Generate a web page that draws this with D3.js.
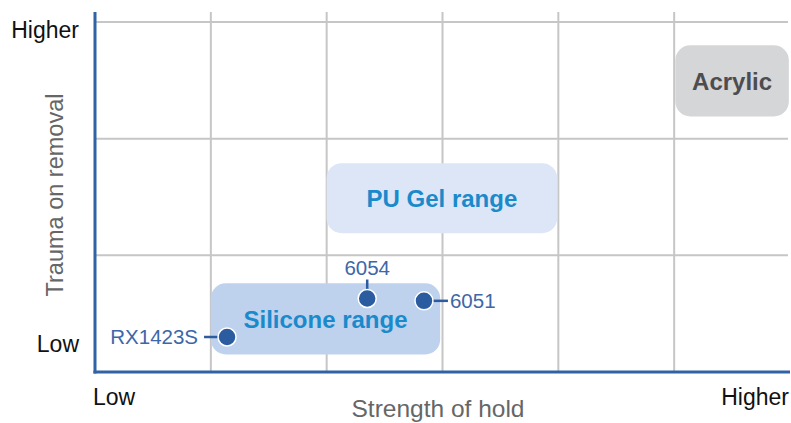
<!DOCTYPE html>
<html>
<head>
<meta charset="utf-8">
<script src="https://cdn.jsdelivr.net/npm/d3@7"></script>
<style>
  html, body { margin: 0; padding: 0; background: #fff; }
  svg { display: block; font-family: "Liberation Sans", Arial, Helvetica, sans-serif; }
</style>
</head>
<body>
<div id="chart"></div>
<script>
// axis ends
const xTickLabels = ["Low", "Higher"];
const yTickLabels = ["Low", "Higher"];
const xTitle = "Strength of hold";
const yTitle = "Trauma on removal";

// grid goes 0..6 across, 0..3 up
const xGrid = [1, 2, 3, 4, 5];
const yGrid = [1, 2, 3];

// material ranges (boxes)
const rangeNames = ["Silicone range", "PU Gel range", "Acrylic"];
const rangeX0 = [1.0, 2.0, 5.01];
const rangeX1 = [2.98, 3.99, 5.99];
const rangeY0 = [0.15, 1.19, 2.19];
const rangeY1 = [0.76, 1.79, 2.8];

// products
const products = ["RX1423S", "6054", "6051"];
const strength = [1.14, 2.35, 2.84];
const trauma = [0.3, 0.63, 0.61];

const width = 791;
const height = 423;
const margin = { top: 12, right: 1, bottom: 51, left: 95 };

const svg = d3.select("#chart")
  .append("svg")
  .attr("width", width)
  .attr("height", height);

const x = d3.scaleLinear().domain([0, 6]).range([margin.left, width - margin.right]);
const y = d3.scaleLinear().domain([0, 3]).range([height - margin.bottom, 22]);

const boxFill = { "Silicone range": "#bed2ee", "PU Gel range": "#dde6f6", "Acrylic": "#d5d6d8" };
const boxText = { "Silicone range": "#1a8acb", "PU Gel range": "#1a8acb", "Acrylic": "#4d4d4f" };

// grid
svg.append("g")
  .selectAll("line")
  .data(xGrid)
  .join("line")
  .attr("x1", (d) => x(d)).attr("x2", (d) => x(d))
  .attr("y1", margin.top).attr("y2", y(0))
  .attr("stroke", "#c6c6c6").attr("stroke-width", 2);

svg.append("g")
  .selectAll("line")
  .data(yGrid)
  .join("line")
  .attr("x1", x(0)).attr("x2", x(6) - 2)
  .attr("y1", (d) => y(d)).attr("y2", (d) => y(d))
  .attr("stroke", "#c6c6c6").attr("stroke-width", 2);

// range boxes
const boxes = svg.append("g")
  .selectAll("g")
  .data(rangeNames.map((n, i) => ({ name: n, x0: rangeX0[i], x1: rangeX1[i], y0: rangeY0[i], y1: rangeY1[i] })))
  .join("g");

boxes.append("rect")
  .attr("x", (d) => x(d.x0))
  .attr("y", (d) => y(d.y1))
  .attr("width", (d) => x(d.x1) - x(d.x0))
  .attr("height", (d) => y(d.y0) - y(d.y1))
  .attr("rx", 15)
  .attr("fill", (d) => boxFill[d.name]);

boxes.append("text")
  .attr("x", (d) => (x(d.x0) + x(d.x1)) / 2)
  .attr("y", (d) => (y(d.y0) + y(d.y1)) / 2)
  .attr("dy", "0.36em")
  .attr("text-anchor", "middle")
  .attr("font-size", 24)
  .attr("font-weight", "bold")
  .attr("fill", (d) => boxText[d.name])
  .text((d) => d.name);

// axes lines
svg.append("line")
  .attr("x1", x(0)).attr("x2", x(0))
  .attr("y1", margin.top).attr("y2", y(0) + 1.5)
  .attr("stroke", "#3062a6").attr("stroke-width", 3);
svg.append("line")
  .attr("x1", x(0) - 1.5).attr("x2", x(6))
  .attr("y1", y(0)).attr("y2", y(0))
  .attr("stroke", "#3062a6").attr("stroke-width", 3);

// axis end labels
svg.append("g")
  .selectAll("text")
  .data(xTickLabels)
  .join("text")
  .attr("x", (d, i) => (i === 0 ? x(0) - 2 : x(6) - 1))
  .attr("y", 405)
  .attr("text-anchor", (d, i) => (i === 0 ? "start" : "end"))
  .attr("font-size", 23)
  .attr("fill", "#111")
  .text((d) => d);

svg.append("g")
  .selectAll("text")
  .data(yTickLabels)
  .join("text")
  .attr("x", 79)
  .attr("y", (d, i) => (i === 0 ? y(0) - 20 : y(3) + 16))
  .attr("text-anchor", "end")
  .attr("font-size", 23)
  .attr("fill", "#111")
  .text((d) => d);

// axis titles
svg.append("text")
  .attr("x", 438)
  .attr("y", 417)
  .attr("text-anchor", "middle")
  .attr("font-size", 24.5)
  .attr("fill", "#666")
  .text(xTitle);

svg.append("text")
  .attr("transform", "translate(63,195) rotate(-90)")
  .attr("text-anchor", "middle")
  .attr("font-size", 23.5)
  .attr("fill", "#666")
  .text(yTitle);

// product points with leader labels
const side = { "RX1423S": "left", "6054": "top", "6051": "right" };
const pts = products.map((p, i) => ({ name: p, cx: x(strength[i]), cy: y(trauma[i]) }));

const pg = svg.append("g")
  .selectAll("g")
  .data(pts)
  .join("g")
  .attr("transform", (d) => `translate(${d.cx},${d.cy})`);

pg.append("line")
  .attr("x1", 0).attr("y1", 0)
  .attr("x2", (d) => (side[d.name] === "left" ? -23 : side[d.name] === "right" ? 24 : 0))
  .attr("y2", (d) => (side[d.name] === "top" ? -19 : 0))
  .attr("stroke", "#2b5c9f").attr("stroke-width", 2.5);

pg.append("circle")
  .attr("r", 9)
  .attr("fill", "#2b5c9f")
  .attr("stroke", "#fff")
  .attr("stroke-width", 1.5);

pg.append("text")
  .attr("x", (d) => (side[d.name] === "left" ? -29 : side[d.name] === "right" ? 26 : 0))
  .attr("y", (d) => (side[d.name] === "top" ? -24 : 0))
  .attr("dy", (d) => (side[d.name] === "top" ? "0" : "0.36em"))
  .attr("text-anchor", (d) => (side[d.name] === "left" ? "end" : side[d.name] === "right" ? "start" : "middle"))
  .attr("font-size", 20.5)
  .attr("fill", "#3d67a8")
  .text((d) => d.name);
</script>
</body>
</html>
